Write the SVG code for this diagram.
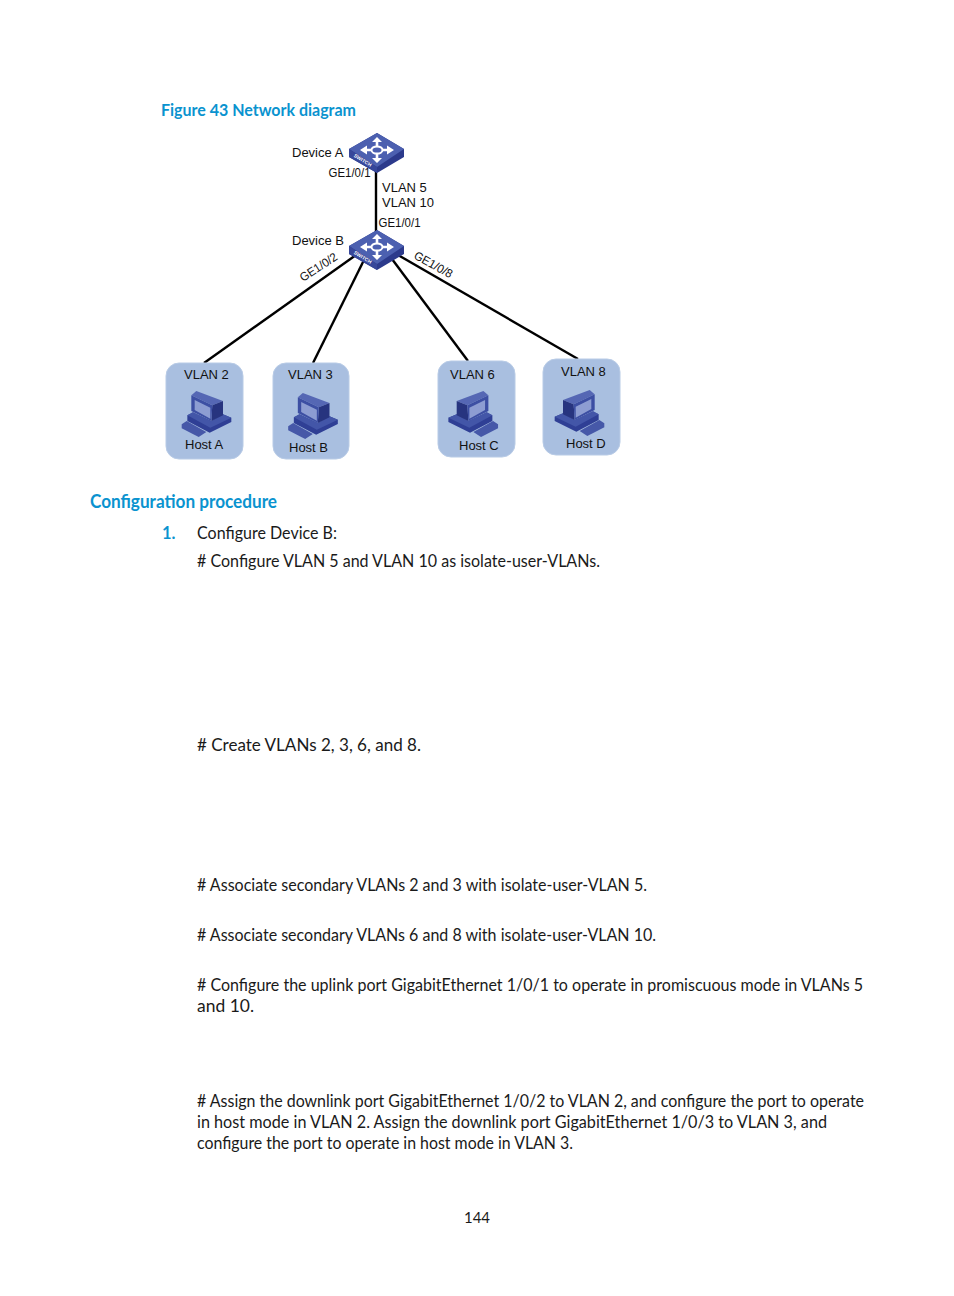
<svg xmlns="http://www.w3.org/2000/svg" width="954" height="1296" viewBox="0 0 954 1296">
<style>
text{font-family:"Liberation Sans",Arial,sans-serif;font-size:13px;fill:#111}
text.b{font-family:Lato,"Noto Sans",sans-serif;font-size:16.500px;fill:#1a1a1a}
text.h{font-family:Lato,"Noto Sans",sans-serif;font-weight:700;fill:#0a93cf}
text.h1{font-size:17.500px}
text.h2{font-size:19px}
text.n{font-size:16.500px}
text.l{font-size:12px}
text.p{font-size:14.500px}
text.s{font-size:5px;font-weight:700;fill:#fff}
.c line{stroke:#000;stroke-width:2.4}
.v{fill:#a9bfe0;stroke:#b8cbe6;stroke-width:1}
</style>
<defs>
<g id="sw">
<path d="M-28,-1 L0,-17 L27,-1 L27,7 L0,23 L-28,7Z" fill="#2c3a8c"/>
<path d="M-28,-1 L0,-17 L27,-1 L0,17Z" fill="#4c60b0"/>
<path d="M-28,-1 L0,17 L0,23 L-28,7Z" fill="#37479a"/>
<path d="M-12,0 H12 M0,-9 V9" stroke="#fff" stroke-width="2.600" fill="none"/>
<path d="M-17,0 L-10,-4.500 V4.500Z M17,0 L10,-4.500 V4.500Z M0,-13 L-5,-8 H5Z M0,13 L-5,8 H5Z" fill="#fff"/>
<ellipse cx="0" cy="0" rx="5.500" ry="3.600" fill="#4c60b0" stroke="#fff" stroke-width="2"/>
<text class="s" transform="translate(-23.500,6.500) rotate(32)">SWITCH</text>
</g>
<g id="pc">
<path d="M11,115 L26,105 L85,138 L62,153 L11,127Z" fill="#4658a8"/>
<path d="M28,88 L45,80 L100,105 L135,85 L160,95 L160,108 L95,140 L28,105Z" fill="#2f3f95"/>
<path d="M28,88 L45,78 L100,105 L135,85 L160,95 L97,125Z" fill="#4356a8"/>
<path d="M40,28 L55,15 L135,45 L103,58Z" fill="#5567b4"/>
<path d="M103,58 L135,45 L135,88 L100,105Z" fill="#27347f"/>
<path d="M40,28 L103,58 L100,105 L40,75Z" fill="#3d4fa3"/>
<path d="M50,42 L97,65 L97,98 L50,72Z" fill="#8d9dd2"/>
</g>
</defs>

<text class="h h1" x="161" y="116" textLength="195" lengthAdjust="spacingAndGlyphs">Figure 43 Network diagram</text>

<g id="connectors" class="c">
<line x1="376" y1="168" x2="376" y2="232"/>
<line x1="356" y1="255" x2="204" y2="363"/>
<line x1="364" y1="260" x2="313" y2="363"/>
<line x1="392" y1="259" x2="468" y2="361"/>
<line x1="398" y1="255" x2="578" y2="359"/>
</g>

<g id="device-a"><use href="#sw" x="377" y="150"/><text x="292" y="156.500">Device A</text><text class="l" x="328.500" y="177" textLength="42" lengthAdjust="spacingAndGlyphs">GE1/0/1</text></g>
<g id="device-b"><use href="#sw" x="377" y="247"/><text x="292" y="245">Device B</text><text class="l" x="378.500" y="227" textLength="42" lengthAdjust="spacingAndGlyphs">GE1/0/1</text></g>

<g id="labels">
<text x="382" y="192">VLAN 5</text>
<text x="382" y="207">VLAN 10</text>
<text class="l" transform="translate(303,282) rotate(-33)" textLength="42" lengthAdjust="spacingAndGlyphs">GE1/0/2</text>
<text class="l" transform="translate(413,258) rotate(29)" textLength="42" lengthAdjust="spacingAndGlyphs">GE1/0/8</text>
</g>

<g id="host-a"><rect class="v" x="166" y="363" width="77" height="96" rx="13"/><use href="#pc" transform="translate(178,386) scale(.3333)"/><text x="184" y="379">VLAN 2</text><text x="185" y="449">Host A</text></g>
<g id="host-b"><rect class="v" x="273" y="363" width="76" height="96" rx="13"/><use href="#pc" transform="translate(284.500,388) scale(.3333)"/><text x="288" y="379">VLAN 3</text><text x="289" y="452">Host B</text></g>
<g id="host-c"><rect class="v" x="438" y="361" width="77" height="96" rx="13"/><use href="#pc" transform="translate(501.700,386) scale(-.3333,.3333)"/><text x="450" y="379">VLAN 6</text><text x="459" y="450">Host C</text></g>
<g id="host-d"><rect class="v" x="543" y="359" width="77" height="96" rx="13"/><use href="#pc" transform="translate(608,385) scale(-.3333,.3333)"/><text x="561" y="376">VLAN 8</text><text x="566" y="448">Host D</text></g>

<text class="h h2" x="90" y="508" textLength="187" lengthAdjust="spacingAndGlyphs">Configuration procedure</text>
<text class="h n" x="162" y="539">1.</text>
<text class="b" x="197" y="539" textLength="140" lengthAdjust="spacingAndGlyphs">Configure Device B:</text>
<text class="b" x="197" y="567" textLength="403" lengthAdjust="spacingAndGlyphs"># Configure VLAN 5 and VLAN 10 as isolate-user-VLANs.</text>
<text class="b" x="197" y="751" textLength="224" lengthAdjust="spacingAndGlyphs"># Create VLANs 2, 3, 6, and 8.</text>
<text class="b" x="197" y="891" textLength="450" lengthAdjust="spacingAndGlyphs"># Associate secondary VLANs 2 and 3 with isolate-user-VLAN 5.</text>
<text class="b" x="197" y="941" textLength="459" lengthAdjust="spacingAndGlyphs"># Associate secondary VLANs 6 and 8 with isolate-user-VLAN 10.</text>
<text class="b" x="197" y="991" textLength="666" lengthAdjust="spacingAndGlyphs"># Configure the uplink port GigabitEthernet 1/0/1 to operate in promiscuous mode in VLANs 5</text>
<text class="b" x="197" y="1012" textLength="57" lengthAdjust="spacingAndGlyphs">and 10.</text>
<text class="b" x="197" y="1107" textLength="667" lengthAdjust="spacingAndGlyphs"># Assign the downlink port GigabitEthernet 1/0/2 to VLAN 2, and configure the port to operate</text>
<text class="b" x="197" y="1128" textLength="630" lengthAdjust="spacingAndGlyphs">in host mode in VLAN 2. Assign the downlink port GigabitEthernet 1/0/3 to VLAN 3, and</text>
<text class="b" x="197" y="1149" textLength="376" lengthAdjust="spacingAndGlyphs">configure the port to operate in host mode in VLAN 3.</text>
<text class="b p" x="464" y="1223" textLength="26" lengthAdjust="spacingAndGlyphs">144</text>
</svg>
